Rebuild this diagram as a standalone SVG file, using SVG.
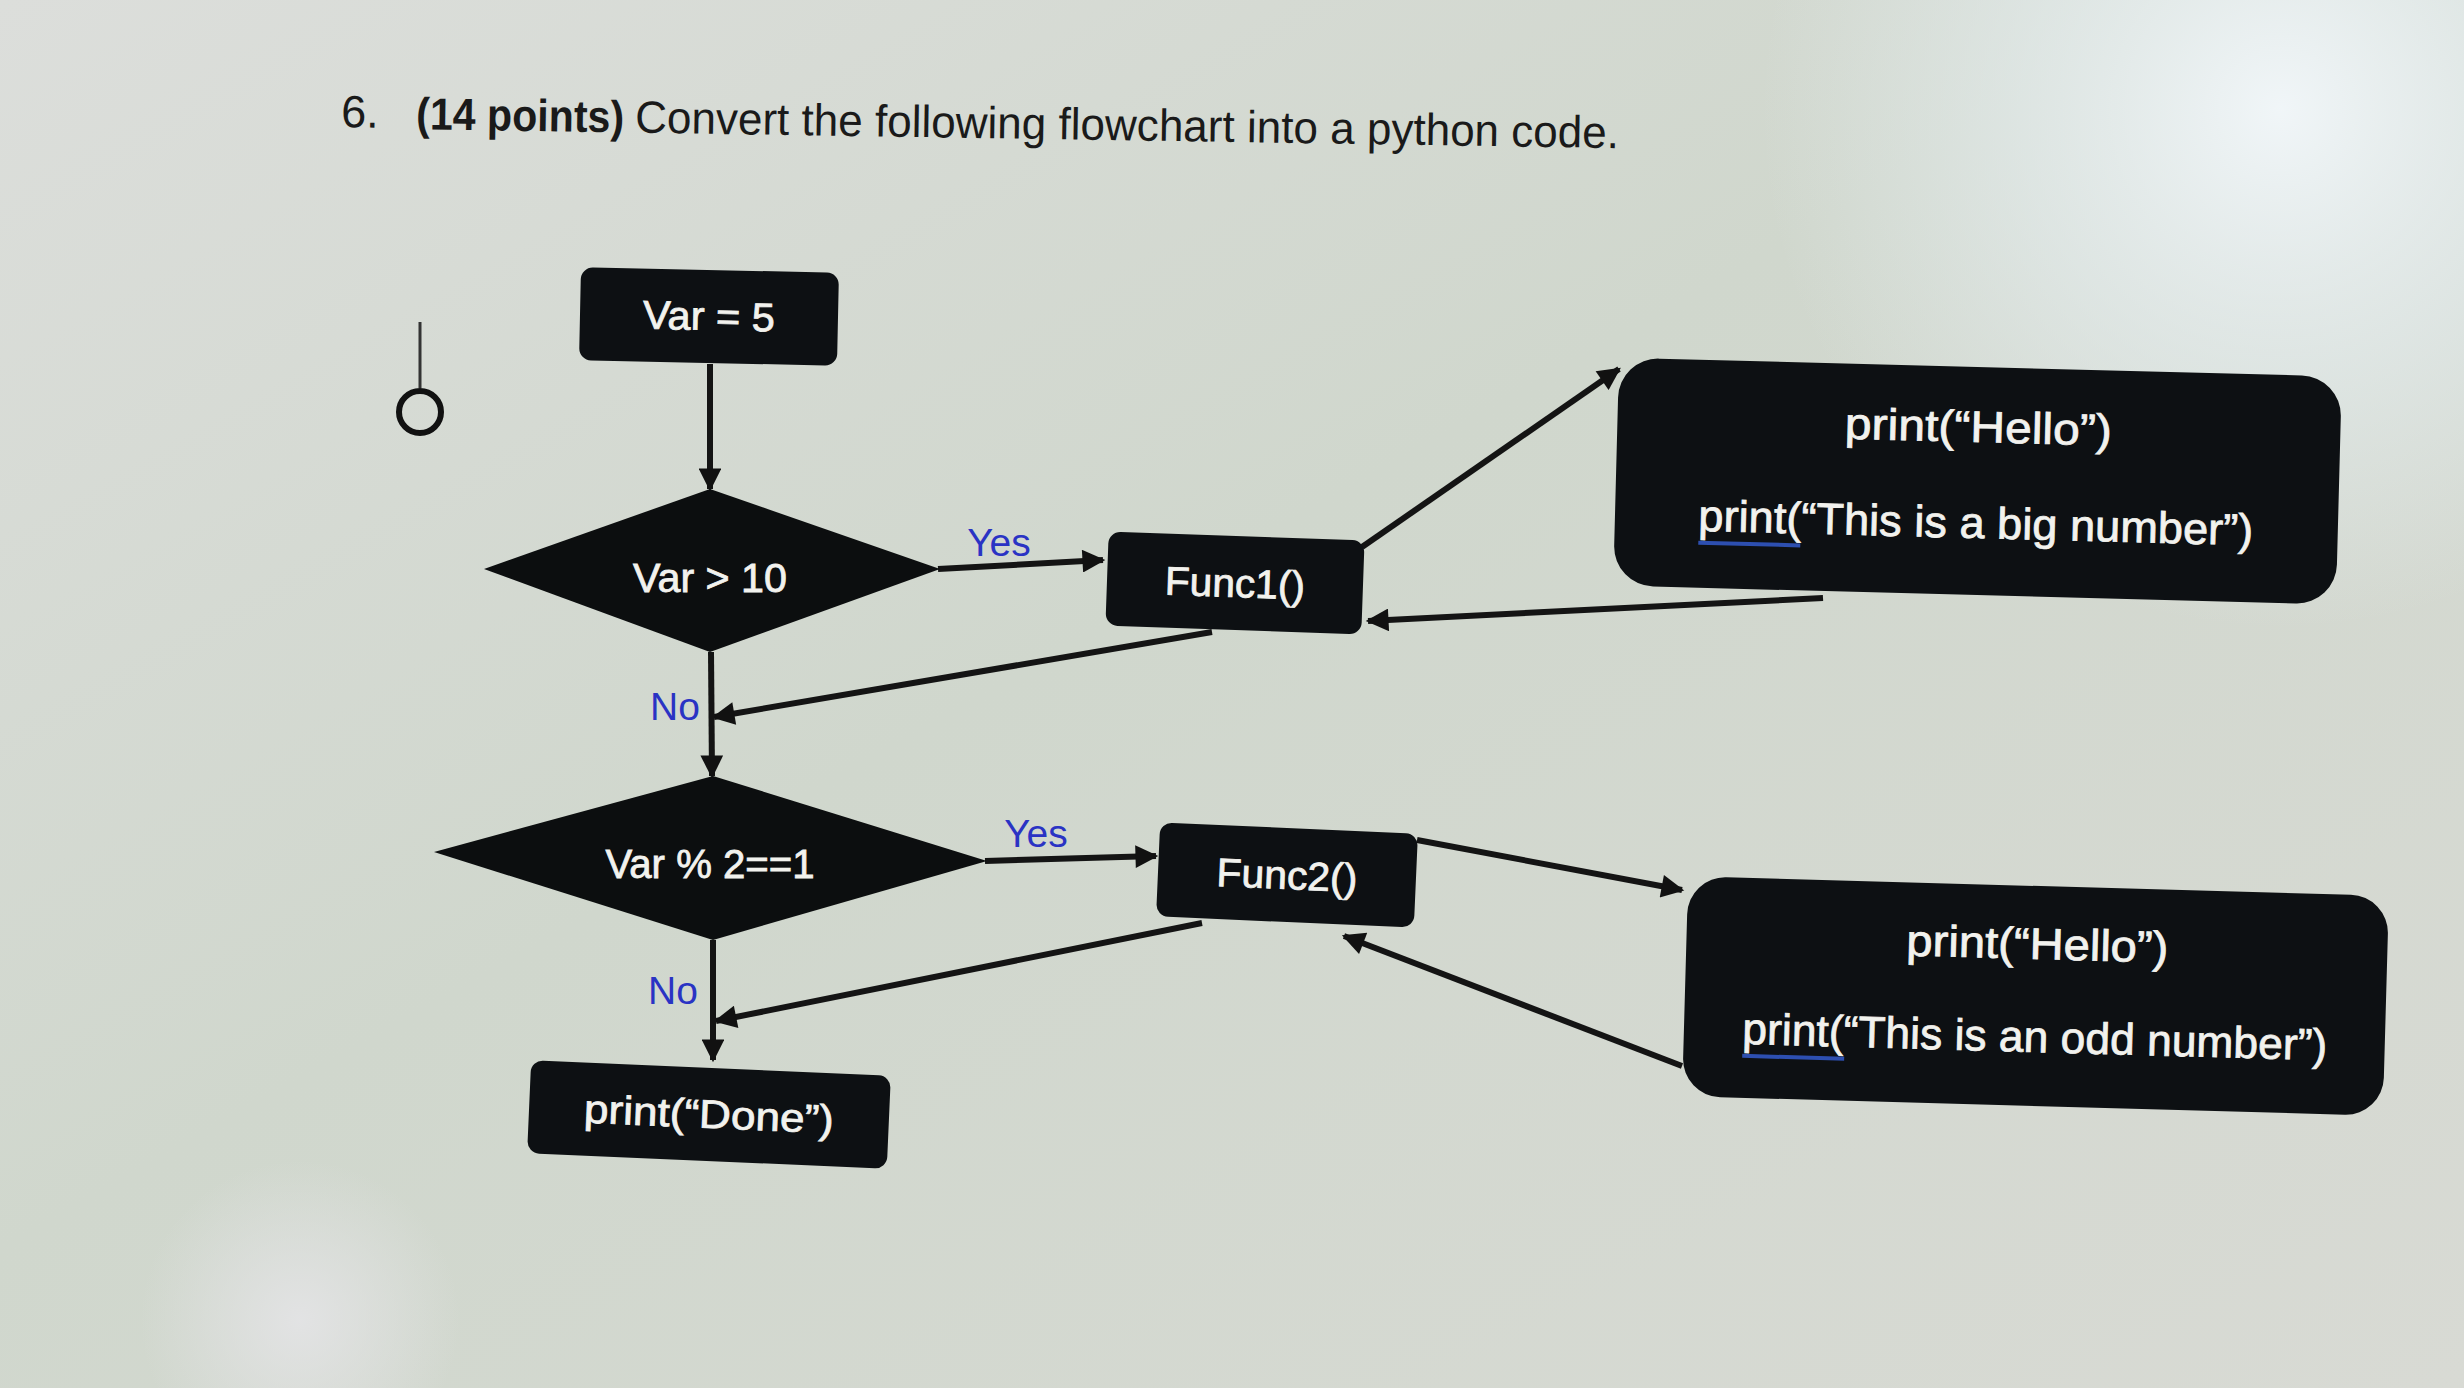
<svg xmlns="http://www.w3.org/2000/svg" width="2464" height="1388" viewBox="0 0 2464 1388">
  <defs>
    <linearGradient id="bg" x1="0" y1="0" x2="1" y2="1">
      <stop offset="0" stop-color="#dcdedb"/>
      <stop offset="0.45" stop-color="#d0d7cd"/>
      <stop offset="1" stop-color="#d8dad4"/>
    </linearGradient>
    <radialGradient id="glare" cx="2280" cy="110" r="520" gradientUnits="userSpaceOnUse">
      <stop offset="0" stop-color="#f2f7fa" stop-opacity="0.95"/>
      <stop offset="0.5" stop-color="#e6eef0" stop-opacity="0.6"/>
      <stop offset="1" stop-color="#e6eef0" stop-opacity="0"/>
    </radialGradient>
    <radialGradient id="glare2" cx="300" cy="1320" r="160" gradientUnits="userSpaceOnUse">
      <stop offset="0" stop-color="#e4e4e6" stop-opacity="0.9"/>
      <stop offset="1" stop-color="#e4e4e6" stop-opacity="0"/>
    </radialGradient>
    <marker id="arr" viewBox="0 0 10 10" refX="9" refY="5" markerWidth="4" markerHeight="3.8" orient="auto" markerUnits="strokeWidth">
      <path d="M0,0 L10,5 L0,10 z" fill="#111"/>
    </marker>
    <style>
      .box { fill: #0d1013; }
      .dia { fill: #0c0e0f; }
      .t { font-family: "Liberation Sans", Arial, sans-serif; fill: #f2f2ee; stroke: #f2f2ee; stroke-width: 0.8; text-anchor: middle; }
      .lbl { font-family: "Liberation Sans", Arial, sans-serif; fill: #2a33c4; text-anchor: middle; font-size: 39px; }
      .title { font-family: "Liberation Sans", Arial, sans-serif; fill: #1a1a1a; font-size: 45px; }
      .c { stroke: #141414; stroke-width: 6; fill: none; marker-end: url(#arr); }
      .ul { stroke: #2d4fb0; stroke-width: 4; }
    </style>
  </defs>

  <rect x="0" y="0" width="2464" height="1388" fill="url(#bg)"/>
  <rect x="0" y="0" width="2464" height="1388" fill="url(#glare)"/>
  <rect x="0" y="0" width="2464" height="1388" fill="url(#glare2)"/>

  <g id="title" transform="rotate(0.9 341 126)">
    <text class="title" x="341" y="127">6.</text>
    <text class="title" x="416" y="128" font-weight="bold" textLength="208" lengthAdjust="spacingAndGlyphs">(14 points)</text>
    <text class="title" x="635" y="128" textLength="984" lengthAdjust="spacingAndGlyphs">Convert the following flowchart into a python code.</text>
  </g>

  <g id="symbol">
    <line x1="420" y1="322" x2="420" y2="388" stroke="#333" stroke-width="3"/>
    <circle cx="420" cy="412" r="21" fill="none" stroke="#111" stroke-width="6"/>
  </g>

  <g id="connectors">
    <line class="c" x1="710" y1="364" x2="710" y2="489"/>
    <line class="c" x1="938" y1="569" x2="1103" y2="560"/>
    <line class="c" x1="1362" y1="547" x2="1619" y2="369"/>
    <line class="c" x1="1823" y1="598" x2="1368" y2="621"/>
    <line class="c" x1="1212" y1="632" x2="714" y2="717"/>
    <line class="c" x1="711" y1="652" x2="712" y2="776"/>
    <line class="c" x1="985" y1="861" x2="1156" y2="856"/>
    <line class="c" x1="1417" y1="840" x2="1682" y2="890"/>
    <line class="c" x1="1682" y1="1066" x2="1344" y2="936"/>
    <line class="c" x1="1202" y1="923" x2="716" y2="1021"/>
    <line class="c" x1="713" y1="940" x2="713" y2="1060"/>
  </g>

  <g id="labels">
    <text class="lbl" x="999" y="556">Yes</text>
    <text class="lbl" x="675" y="720">No</text>
    <text class="lbl" x="1036" y="847">Yes</text>
    <text class="lbl" x="673" y="1004">No</text>
  </g>

  <g id="n-var5" transform="rotate(1.2 709 316)">
    <rect class="box" x="580" y="270" width="258" height="93" rx="12"/>
    <text class="t" x="709" y="330" font-size="40" textLength="132" lengthAdjust="spacingAndGlyphs">Var = 5</text>
  </g>

  <g id="n-d1">
    <polygon class="dia" points="484,569 710,489 940,569 710,652"/>
    <text class="t" x="710" y="592" font-size="40" textLength="154" lengthAdjust="spacingAndGlyphs">Var &gt; 10</text>
  </g>

  <g id="n-func1" transform="rotate(2 1235 583)">
    <rect class="box" x="1107" y="536" width="256" height="94" rx="12"/>
    <text class="t" x="1235" y="597" font-size="40" textLength="140" lengthAdjust="spacingAndGlyphs">Func1()</text>
  </g>

  <g id="n-box1" transform="rotate(1.5 1977 481)">
    <rect class="box" x="1616" y="367" width="723" height="228" rx="40"/>
    <text class="t" x="1977" y="442" font-size="44" textLength="267" lengthAdjust="spacingAndGlyphs">print(“Hello”)</text>
    <text class="t" x="1977" y="538" font-size="44" textLength="555" lengthAdjust="spacingAndGlyphs">print(“This is a big number”)</text>
    <line class="ul" x1="1700" y1="550" x2="1802" y2="550"/>
  </g>

  <g id="n-d2">
    <polygon class="dia" points="434,852 713,776 987,861 713,940"/>
    <text class="t" x="710" y="878" font-size="40" textLength="209" lengthAdjust="spacingAndGlyphs">Var % 2==1</text>
  </g>

  <g id="n-func2" transform="rotate(2.5 1287 875)">
    <rect class="box" x="1158" y="828" width="258" height="94" rx="12"/>
    <text class="t" x="1287" y="889" font-size="40" textLength="141" lengthAdjust="spacingAndGlyphs">Func2()</text>
  </g>

  <g id="n-box2" transform="rotate(1.6 2035 996)">
    <rect class="box" x="1685" y="886" width="701" height="220" rx="38"/>
    <text class="t" x="2036" y="959" font-size="44" textLength="262" lengthAdjust="spacingAndGlyphs">print(“Hello”)</text>
    <text class="t" x="2036" y="1052" font-size="44" textLength="585" lengthAdjust="spacingAndGlyphs">print(“This is an odd number”)</text>
    <line class="ul" x1="1744" y1="1064" x2="1846" y2="1064"/>
  </g>

  <g id="n-done" transform="rotate(2.5 709 1114)">
    <rect class="box" x="529" y="1068" width="360" height="93" rx="12"/>
    <text class="t" x="709" y="1128" font-size="40" textLength="250" lengthAdjust="spacingAndGlyphs">print(“Done”)</text>
  </g>
</svg>
